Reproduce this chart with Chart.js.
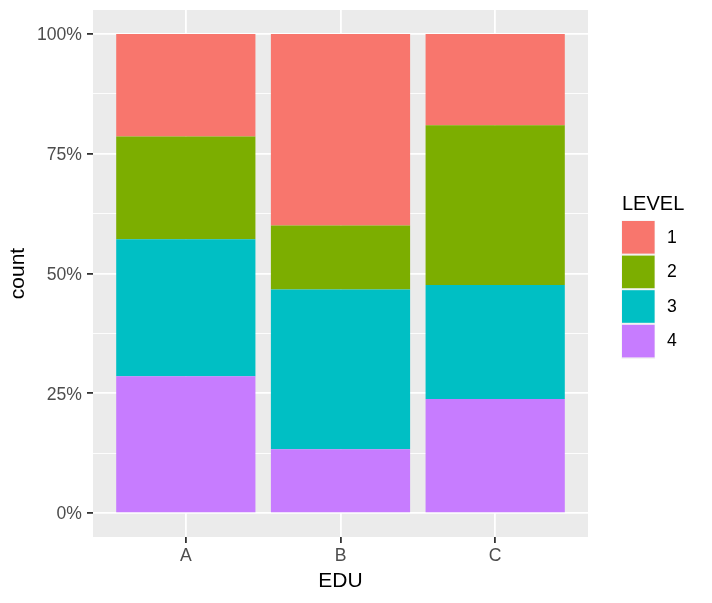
<!DOCTYPE html>
<html>
<head>
<meta charset="utf-8">
<script src="https://cdn.jsdelivr.net/npm/chart.js@4/dist/chart.umd.min.js"></script>
<style>
    html, body { margin: 0; padding: 0; background: #ffffff; }
    canvas { display: block; }
</style>
</head>
<body>
<canvas id="grafico" width="712" height="603"></canvas>
<script>
// datos (conteos por nivel y EDU)
const categorias = ["A", "B", "C"];
const niveles = ["1", "2", "3", "4"];
const cuentaNivel1 = [3, 6, 4];
const cuentaNivel2 = [3, 2, 7];
const cuentaNivel3 = [4, 5, 5];
const cuentaNivel4 = [4, 2, 5];
const colores = ["#F8766D", "#7CAE00", "#00BFC4", "#C77CFF"];
const ticksY = [0, 0.25, 0.5, 0.75, 1];
const ticksYMenores = [0.125, 0.375, 0.625, 0.875];
const etiquetasY = ["0%", "25%", "50%", "75%", "100%"];

const cuentas = [cuentaNivel1, cuentaNivel2, cuentaNivel3, cuentaNivel4];
const totales = categorias.map((c, i) => cuentas.reduce((s, serie) => s + serie[i], 0));

const fuente = "'Liberation Sans', Arial, sans-serif";

function armarDataset(indice) {
    const serie = cuentas[indice];
    return {
        label: niveles[indice],
        data: serie.map((v, i) => ({ x: i + 1, y: v / totales[i] })),
        backgroundColor: colores[indice],
        borderWidth: 0,
        categoryPercentage: 1,
        barPercentage: 0.9
    };
}

// fondo gris del panel
const fondoPanel = {
    id: "fondoPanel",
    beforeDraw(chart) {
        const { ctx, chartArea } = chart;
        ctx.save();
        ctx.fillStyle = "#EBEBEB";
        ctx.fillRect(chartArea.left, chartArea.top, chartArea.right - chartArea.left, chartArea.bottom - chartArea.top);
        ctx.restore();
    }
};

// leyenda al estilo ggplot
const leyenda = {
    id: "leyenda",
    afterDraw(chart) {
        const ctx = chart.ctx;
        const x = 622;
        ctx.save();
        ctx.fillStyle = "#000000";
        ctx.font = "20px " + fuente;
        ctx.textBaseline = "alphabetic";
        ctx.textAlign = "left";
        ctx.fillText("LEVEL", x, 210);

        ctx.font = "17.6px " + fuente;
        ctx.textBaseline = "middle";
        niveles.forEach((nivel, i) => {
            const top = 220.5 + i * 34.6;
            ctx.fillStyle = "#F2F2F2";
            ctx.fillRect(x - 0.5, top, 33.6, 34.6);
            ctx.fillStyle = colores[i];
            ctx.fillRect(x, top + 0.5, 32.6, 32.6);
            ctx.fillStyle = "#000000";
            ctx.fillText(nivel, 667, top + 17.3);
        });
        ctx.restore();
    }
};

function esMayor(valor) {
    return ticksY.some(t => Math.abs(t - valor) < 1e-9);
}

const ctx = document.getElementById("grafico").getContext("2d");

new Chart(ctx, {
    type: "bar",
    data: {
        datasets: [3, 2, 1, 0].map(armarDataset)
    },
    options: {
        responsive: false,
        animation: false,
        layout: { padding: { top: 10, right: 124, bottom: 0, left: 0 } },
        plugins: {
            legend: { display: false },
            tooltip: { enabled: false }
        },
        scales: {
            x: {
                type: "linear",
                stacked: true,
                offset: false,
                min: 0.4,
                max: 3.6,
                afterBuildTicks: scale => {
                    scale.ticks = categorias.map((c, i) => ({ value: i + 1 }));
                },
                afterFit: scale => {
                    scale.height = 66;
                    scale.paddingLeft = 0;
                    scale.paddingRight = 0;
                },
                ticks: {
                    autoSkip: false,
                    maxRotation: 0,
                    padding: 3,
                    color: "#4D4D4D",
                    font: { family: fuente, size: 17.6 },
                    callback: value => categorias[Math.round(value) - 1]
                },
                grid: {
                    offset: false,
                    color: "#FFFFFF",
                    lineWidth: 1.8,
                    tickColor: "#333333",
                    tickWidth: 1.8,
                    tickLength: 6
                },
                border: { display: false },
                title: {
                    display: true,
                    text: "EDU",
                    color: "#000000",
                    font: { family: fuente, size: 21 },
                    padding: { top: 0, bottom: 9 }
                }
            },
            y: {
                stacked: true,
                min: -0.05,
                max: 1.05,
                afterBuildTicks: scale => {
                    scale.ticks = ticksY.concat(ticksYMenores).sort((a, b) => a - b).map(v => ({ value: v }));
                },
                afterFit: scale => {
                    scale.width = 93;
                    scale.paddingTop = 0;
                    scale.paddingBottom = 0;
                },
                ticks: {
                    autoSkip: false,
                    padding: 5,
                    labelOffset: 1.5,
                    color: "#4D4D4D",
                    font: { family: fuente, size: 17.6 },
                    callback: value => {
                        const idx = ticksY.findIndex(t => Math.abs(t - value) < 1e-9);
                        return idx >= 0 ? etiquetasY[idx] : "";
                    }
                },
                grid: {
                    color: "#FFFFFF",
                    lineWidth: c => esMayor(c.tick.value) ? 1.8 : 0.9,
                    tickColor: c => esMayor(c.tick.value) ? "#333333" : "rgba(0,0,0,0)",
                    tickWidth: 1.8,
                    tickLength: 6
                },
                border: { display: false },
                title: {
                    display: true,
                    text: "count",
                    color: "#000000",
                    font: { family: fuente, size: 21 },
                    padding: { top: 6, bottom: 0 }
                }
            }
        }
    },
    plugins: [fondoPanel, leyenda]
});
</script>
</body>
</html>
